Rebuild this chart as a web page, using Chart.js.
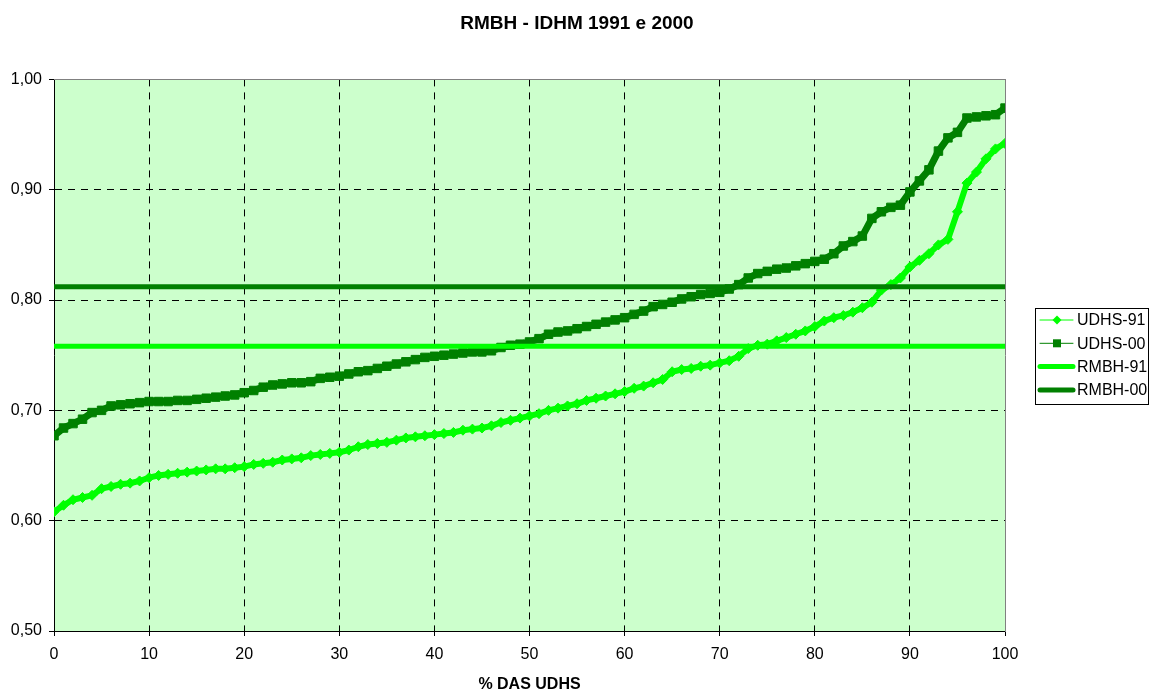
<!DOCTYPE html>
<html>
<head>
<meta charset="utf-8">
<title>RMBH - IDHM 1991 e 2000</title>
<script src="https://cdn.jsdelivr.net/npm/chart.js@4.4.1/dist/chart.umd.min.js"></script>
<style>
  html, body { margin: 0; padding: 0; background: #fff; }
  #wrap { width: 1154px; height: 689px; }
</style>
</head>
<body>
<div id="wrap"><canvas id="idhmChart" width="1154" height="689"></canvas></div>
<script>
// % das UDHS (eixo x)
const pctUdhs = [0, 1, 2, 3, 4, 5, 6, 7, 8, 9, 10, 11, 12, 13, 14, 15, 16, 17, 18, 19,
  20, 21, 22, 23, 24, 25, 26, 27, 28, 29, 30, 31, 32, 33, 34, 35, 36, 37, 38, 39,
  40, 41, 42, 43, 44, 45, 46, 47, 48, 49, 50, 51, 52, 53, 54, 55, 56, 57, 58, 59,
  60, 61, 62, 63, 64, 65, 66, 67, 68, 69, 70, 71, 72, 73, 74, 75, 76, 77, 78, 79,
  80, 81, 82, 83, 84, 85, 86, 87, 88, 89, 90, 91, 92, 93, 94, 95, 96, 97, 98, 99, 100];

// IDHM das UDHS em 1991, ordenado
const udhs91 = [0.608, 0.614, 0.619, 0.621, 0.623, 0.629, 0.631, 0.633, 0.634, 0.636,
  0.639, 0.641, 0.642, 0.643, 0.644, 0.645, 0.646, 0.647, 0.647, 0.648,
  0.649, 0.651, 0.652, 0.653, 0.655, 0.656, 0.657, 0.659, 0.660, 0.661,
  0.662, 0.664, 0.667, 0.669, 0.670, 0.671, 0.673, 0.675, 0.676, 0.677,
  0.678, 0.679, 0.680, 0.682, 0.683, 0.684, 0.686, 0.689, 0.691, 0.693,
  0.695, 0.697, 0.700, 0.702, 0.704, 0.706, 0.709, 0.711, 0.713, 0.715,
  0.717, 0.720, 0.722, 0.725, 0.728, 0.735, 0.737, 0.738, 0.740, 0.741,
  0.743, 0.745, 0.749, 0.756, 0.759, 0.760, 0.763, 0.766, 0.769, 0.772,
  0.776, 0.781, 0.784, 0.786, 0.789, 0.793, 0.798, 0.809, 0.814, 0.820,
  0.830, 0.836, 0.842, 0.850, 0.855, 0.880, 0.906, 0.916, 0.928, 0.937, 0.942];

// IDHM das UDHS em 2000, ordenado
const udhs00 = [0.677, 0.684, 0.688, 0.692, 0.698, 0.700, 0.704, 0.705, 0.706, 0.707,
  0.708, 0.708, 0.708, 0.709, 0.709, 0.710, 0.711, 0.712, 0.713, 0.714,
  0.716, 0.718, 0.721, 0.723, 0.724, 0.725, 0.725, 0.726, 0.729, 0.730,
  0.731, 0.733, 0.735, 0.736, 0.738, 0.740, 0.742, 0.744, 0.746, 0.748,
  0.749, 0.750, 0.751, 0.752, 0.753, 0.753, 0.754, 0.757, 0.759, 0.760,
  0.762, 0.765, 0.769, 0.771, 0.772, 0.774, 0.776, 0.778, 0.780, 0.782,
  0.784, 0.787, 0.790, 0.794, 0.796, 0.798, 0.801, 0.803, 0.805, 0.806,
  0.807, 0.810, 0.814, 0.820, 0.824, 0.826, 0.828, 0.829, 0.831, 0.833,
  0.835, 0.837, 0.842, 0.849, 0.853, 0.858, 0.874, 0.880, 0.884, 0.886,
  0.898, 0.908, 0.918, 0.935, 0.947, 0.952, 0.965, 0.966, 0.967, 0.968, 0.974];

// IDHM da regiao metropolitana
const rmbh91 = 0.758;
const rmbh00 = 0.812;

const verdeClaro = '#00FF00';
const verdeEscuro = '#008000';

Chart.defaults.font.family = "'Liberation Sans', Arial, sans-serif";
Chart.defaults.font.size = 16;
Chart.defaults.color = '#000';

const pontos = (ys) => ys.map((v, i) => ({ x: pctUdhs[i], y: v }));
const linhaRmbh = (v) => [{ x: pctUdhs[0], y: v }, { x: pctUdhs[pctUdhs.length - 1], y: v }];

// fundo verde da area de plotagem + borda cinza superior
const fundoPlotagem = {
  id: 'fundoPlotagem',
  beforeDraw(chart) {
    const { ctx, chartArea: a } = chart;
    ctx.save();
    ctx.fillStyle = '#CCFFCC';
    ctx.fillRect(a.left, a.top, a.right - a.left, a.bottom - a.top);
    ctx.restore();
  },
  beforeDatasetsDraw(chart) {
    const { ctx, chartArea: a } = chart;
    ctx.save();
    ctx.strokeStyle = '#808080';
    ctx.lineWidth = 1;
    ctx.beginPath();
    ctx.moveTo(a.left, Math.round(a.top) + 0.5);
    ctx.lineTo(a.right, Math.round(a.top) + 0.5);
    ctx.stroke();
    ctx.restore();
  }
};

// legenda no estilo do Excel (linha + marcador)
const legendaExcel = {
  id: 'legendaExcel',
  afterDraw(chart) {
    const ctx = chart.ctx;
    const bx = 1035, by = 308, bw = 113, bh = 96;
    ctx.save();
    ctx.fillStyle = '#fff';
    ctx.fillRect(bx, by, bw, bh);
    ctx.strokeStyle = '#000';
    ctx.lineWidth = 1;
    ctx.strokeRect(bx + 0.5, by + 0.5, bw, bh);

    chart.data.datasets.forEach((ds, i) => {
      const y = by + 12 + i * 23.3;
      ctx.strokeStyle = ds.borderColor;
      ctx.lineCap = 'round';
      ctx.lineWidth = ds.legendLine;
      ctx.beginPath();
      ctx.moveTo(1040, y);
      ctx.lineTo(1073, y);
      ctx.stroke();
      ctx.fillStyle = ds.borderColor;
      if (ds.pointStyle === 'rect') {
        ctx.fillRect(1053, y - 4, 8, 8);
      } else if (ds.pointStyle === 'rectRot') {
        ctx.beginPath();
        ctx.moveTo(1057, y - 4.5);
        ctx.lineTo(1061.5, y);
        ctx.lineTo(1057, y + 4.5);
        ctx.lineTo(1052.5, y);
        ctx.closePath();
        ctx.fill();
      }
      ctx.fillStyle = '#000';
      ctx.font = "16px 'Liberation Sans', Arial, sans-serif";
      ctx.textBaseline = 'middle';
      ctx.textAlign = 'left';
      ctx.fillText(ds.label, 1077, y + 1);
    });
    ctx.restore();
  }
};

const ctx = document.getElementById('idhmChart').getContext('2d');

const idhmChart = new Chart(ctx, {
  type: 'line',
  data: {
    datasets: [{
      label: 'UDHS-91',
      data: pontos(udhs91),
      borderColor: verdeClaro,
      backgroundColor: verdeClaro,
      borderWidth: 6,
      pointStyle: 'rectRot',
      pointRadius: 5,
      pointBorderWidth: 1,
      legendLine: 1,
      order: 1
    }, {
      label: 'UDHS-00',
      data: pontos(udhs00),
      borderColor: verdeEscuro,
      backgroundColor: verdeEscuro,
      borderWidth: 7,
      pointStyle: 'rect',
      pointRadius: 6,
      pointBorderWidth: 1,
      legendLine: 1,
      order: 1
    }, {
      label: 'RMBH-91',
      data: linhaRmbh(rmbh91),
      borderColor: verdeClaro,
      borderWidth: 5,
      pointRadius: 0,
      legendLine: 5,
      order: 0
    }, {
      label: 'RMBH-00',
      data: linhaRmbh(rmbh00),
      borderColor: verdeEscuro,
      borderWidth: 5,
      pointRadius: 0,
      legendLine: 5,
      order: 0
    }]
  },
  options: {
    responsive: false,
    animation: false,
    devicePixelRatio: 1,
    elements: { line: { tension: 0 } },
    layout: { padding: 0 },
    plugins: {
      legend: { display: false },
      tooltip: { enabled: false },
      title: {
        display: true,
        text: 'RMBH - IDHM 1991 e 2000',
        font: { size: 19, weight: 'bold' },
        padding: { top: 12, bottom: 44.6 }
      }
    },
    scales: {
      x: {
        type: 'linear',
        min: 0,
        max: 100,
        ticks: { stepSize: 10, padding: 9 },
        grid: {
          color: (c) => (c.tick && (c.tick.value === 0 || c.tick.value === 100)) ? 'rgba(0,0,0,0)' : '#000',
          tickColor: '#000',
          tickLength: 5
        },
        border: { color: '#000', width: 1, dash: [7, 6] },
        title: {
          display: true,
          text: '% DAS UDHS',
          font: { size: 16, weight: 'bold' },
          padding: { top: 0, bottom: -5 }
        },
        afterFit(s) { s.height = 58; }
      },
      y: {
        min: 0.5,
        max: 1.0,
        ticks: {
          stepSize: 0.1,
          padding: 7,
          callback: (v) => v.toFixed(2).replace('.', ',')
        },
        grid: {
          color: (c) => (c.tick && (c.tick.value < 0.55 || c.tick.value > 0.95)) ? 'rgba(0,0,0,0)' : '#000',
          tickColor: '#000',
          tickLength: 5
        },
        border: { color: '#000', width: 1, dash: [7, 6] },
        afterFit(s) { s.width = 54; }
      },
      y2: {
        position: 'right',
        min: 0.5,
        max: 1.0,
        grid: { display: false },
        ticks: { display: false },
        border: { color: '#808080', width: 1 },
        afterFit(s) { s.width = 149; }
      }
    }
  },
  plugins: [fundoPlotagem, legendaExcel]
});
</script>
</body>
</html>
